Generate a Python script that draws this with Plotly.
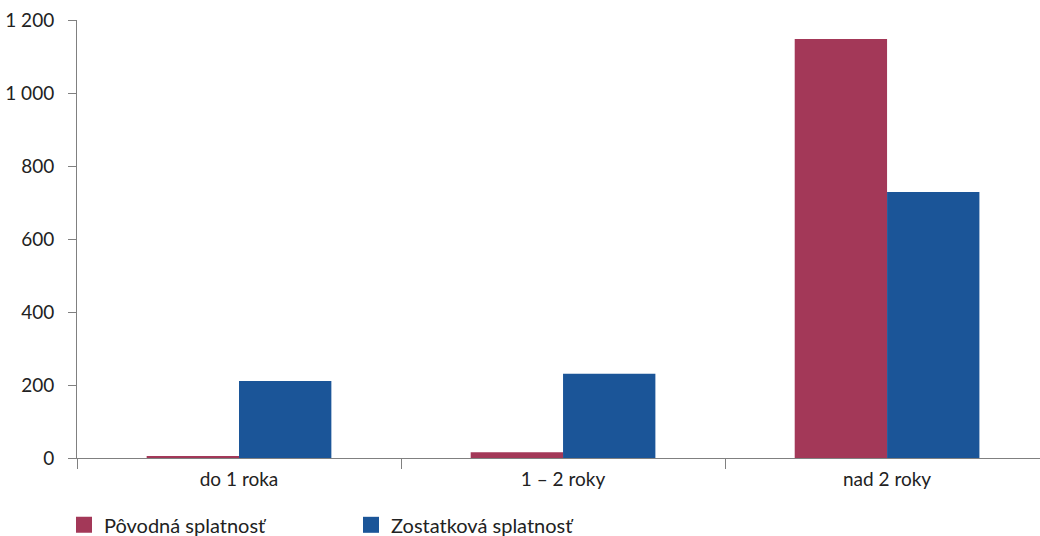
import plotly.graph_objects as go

categories = ["do 1 roka", "1 – 2 roky", "nad 2 roky"]
povodna = [5, 16, 1148]
zostatkova = [211, 231, 729]
series_names = ["Pôvodná splatnosť", "Zostatková splatnosť"]
colors = ["#A33858", "#1B5598"]
y_ticks = [0, 200, 400, 600, 800, 1000, 1200]

fig = go.Figure()
for name, vals, col in zip(series_names, [povodna, zostatkova], colors):
    fig.add_trace(go.Bar(x=categories, y=vals, name=name, showlegend=False,
                         marker=dict(color=col, line=dict(width=0))))
# legend entries with larger square symbols
for name, col in zip(series_names, colors):
    fig.add_trace(go.Scatter(x=[None], y=[None], mode="markers", name=name,
                             marker=dict(symbol="square", size=16, color=col)))

fig.update_layout(
    width=1040, height=536,
    margin=dict(l=77, r=0, t=20, b=78, autoexpand=False),
    paper_bgcolor="white", plot_bgcolor="white",
    barmode="group", bargap=0.43, bargroupgap=0,
    separators=", ",
    font=dict(family="Lato", size=19, color="#222222"),
    showlegend=True,
    legend=dict(orientation="h", x=-0.0135, xanchor="left", y=-0.108, yanchor="top",
                entrywidth=242, entrywidthmode="pixels", font=dict(size=20),
                itemclick=False, itemsizing="trace"),
)
fig.update_xaxes(
    range=[-0.5, 2.472], showline=True, linecolor="#808080", linewidth=1,
    ticks="outside", tickson="boundaries", ticklen=10, tickcolor="#808080",
    showgrid=False, zeroline=False, ticklabelstandoff=4,
)
fig.update_yaxes(
    range=[0, 1200], tickvals=y_ticks, separatethousands=True,
    showline=True, linecolor="#808080", linewidth=1,
    ticks="outside", ticklen=8, tickcolor="#808080",
    showgrid=False, zeroline=False, ticklabelstandoff=10,
)

fig.write_html("out.html")
